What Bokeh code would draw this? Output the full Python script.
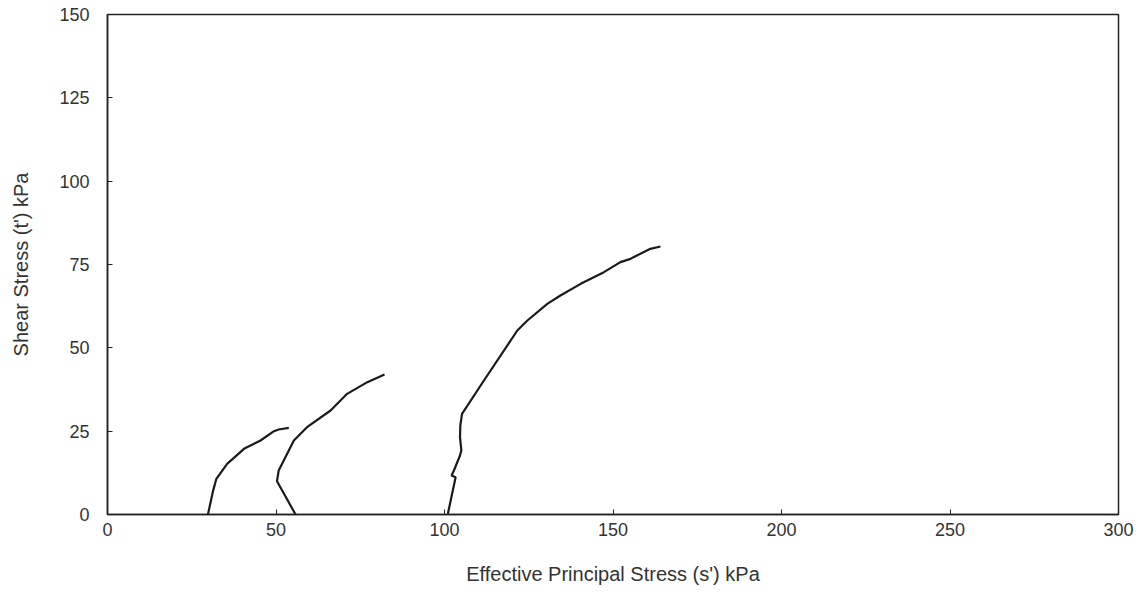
from bokeh.plotting import figure
from bokeh.models import Range1d, FixedTicker
from bokeh.embed import file_html
from bokeh.resources import INLINE

# Stress paths (s', t') in kPa
s1 = [29.8, 31.3, 31.9, 32.3, 35.5, 40.5, 45.4, 49.4, 50.8, 53.8]
t1 = [0.0, 7.0, 9.2, 10.7, 15.2, 19.7, 22.2, 25.0, 25.5, 26.0]

s2 = [55.8, 50.3, 50.8, 55.3, 59.2, 66.2, 71.1, 77.1, 82.2]
t2 = [0.0, 10.0, 13.2, 22.2, 26.2, 31.2, 36.2, 39.7, 42.0]

s3 = [101.0, 103.3, 102.1, 102.8, 104.6, 105.0, 104.6, 104.7, 105.2, 111.7,
      121.6, 124.6, 130.5, 134.4, 140.4, 147.3, 152.2, 155.2, 159.6, 161.1, 164.1]
t3 = [0.2, 11.2, 11.7, 13.2, 17.7, 19.2, 23.2, 26.7, 30.2, 40.2,
      55.2, 58.2, 63.2, 65.7, 69.2, 72.7, 75.7, 76.7, 79.0, 79.7, 80.4]

x_ticks = [0, 50, 100, 150, 200, 250, 300]
y_ticks = [0, 25, 50, 75, 100, 125, 150]

FONT = "Liberation Sans"

p = figure(width=1138, height=588, output_backend="svg", toolbar_location=None,
           x_range=Range1d(0, 300), y_range=Range1d(0, 150),
           min_border_left=107, min_border_right=20, min_border_top=14, min_border_bottom=74,
           background_fill_color="white", border_fill_color="white")

p.outline_line_color = "#222222"
p.outline_line_width = 1.5
p.grid.visible = False

for ax in (p.xaxis[0], p.yaxis[0]):
    ax.major_tick_in = 5
    ax.major_tick_out = 0
    ax.minor_tick_line_color = None
    ax.axis_line_color = "#222222"
    ax.axis_line_width = 1.5
    ax.major_tick_line_color = "#222222"
    ax.major_label_text_font = FONT
    ax.major_label_text_font_size = "18px"
    ax.major_label_text_color = "#333333"
    ax.axis_label_text_font = FONT
    ax.axis_label_text_font_size = "20px"
    ax.axis_label_text_font_style = "normal"
    ax.axis_label_text_color = "#333333"

p.xaxis.ticker = FixedTicker(ticks=x_ticks)
p.yaxis.ticker = FixedTicker(ticks=y_ticks)
p.xaxis.axis_label = "Effective Principal Stress (s') kPa"
p.yaxis.axis_label = "Shear Stress (t') kPa"
p.xaxis.major_label_standoff = 8
p.yaxis.major_label_standoff = 18
p.xaxis.axis_label_standoff = 24
p.yaxis.axis_label_standoff = 24

for xs, ys in ((s1, t1), (s2, t2), (s3, t3)):
    p.line(xs, ys, line_color="#1a1a1a", line_width=2.2)

open("out.html", "w").write(file_html(p, INLINE))
